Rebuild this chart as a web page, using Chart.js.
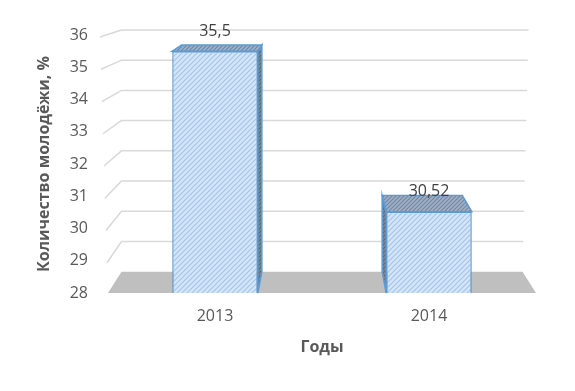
<!DOCTYPE html>
<html>
<head>
<meta charset="utf-8">
<script src="https://cdn.jsdelivr.net/npm/chart.js@4/dist/chart.umd.min.js"></script>
<style>
  html, body { margin: 0; padding: 0; background: #fff; }
  #wrap { width: 575px; height: 391px; }
</style>
</head>
<body>
<div id="wrap"><canvas id="chart" width="575" height="391"></canvas></div>
<script>
// данные
const years = ["2013", "2014"];
const youthShare = [35.5, 30.52];
const yMin = 28;
const yMax = 36;
const yStep = 1;
const yTitle = "Количество молодёжи, %";
const xTitle = "Годы";

const K = 0.063; // глубина "объёма"

const canvas = document.getElementById("chart");
const ctx0 = canvas.getContext("2d");

function hatch(bg, fg, s) {
    const c = document.createElement("canvas");
    c.width = c.height = s;
    const g = c.getContext("2d");
    g.fillStyle = bg;
    g.fillRect(0, 0, s, s);
    g.strokeStyle = fg;
    g.lineWidth = 1.2;
    g.beginPath();
    g.moveTo(0, s); g.lineTo(s, 0);
    g.moveTo(-1, 1); g.lineTo(1, -1);
    g.moveTo(s - 1, s + 1); g.lineTo(s + 1, s - 1);
    g.stroke();
    return ctx0.createPattern(c, "repeat");
}

const frontFill = hatch("#d5e5f7", "#a3c5eb", 5);
const topFill = hatch("#9fb1c7", "#7387a2", 4);
const sideFill = hatch("#7c8898", "#5d6978", 4);

function poly(ctx, pts) {
    ctx.beginPath();
    ctx.moveTo(pts[0][0], pts[0][1]);
    for (let i = 1; i < pts.length; i++) ctx.lineTo(pts[i][0], pts[i][1]);
    ctx.closePath();
}

const depth3d = {
    id: "depth3d",
    beforeDatasetsDraw(chart) {
        const { ctx, chartArea: a, scales: { y } } = chart;
        const vx = (a.left + a.right) / 2, vy = a.top - 80;
        const back = (px, py) => [px + (vx - px) * K, py + (vy - py) * K];

        ctx.save();
        // пол
        poly(ctx, [[a.left, a.bottom], [a.right, a.bottom], back(a.right, a.bottom), back(a.left, a.bottom)]);
        ctx.fillStyle = "#bfbfbf";
        ctx.fill();

        // линии сетки на стенках
        ctx.strokeStyle = "#d9d9d9";
        ctx.lineWidth = 1.5;
        for (let v = yMin + yStep; v <= yMax; v += yStep) {
            const fy = y.getPixelForValue(v);
            const t = (fy - a.top) / (a.bottom - a.top);
            const fx = a.left - 8 + 8 * t;
            const [bx, by] = back(a.left, fy);
            const rx = back(a.right, fy)[0] + 6 * (1 - t);
            ctx.beginPath();
            ctx.moveTo(fx, fy + 2);
            ctx.lineTo(bx, by);
            ctx.lineTo(rx, by);
            ctx.stroke();
        }

        // боковые грани столбцов
        chart.getDatasetMeta(0).data.forEach(bar => {
            const l = bar.x - bar.width / 2, r = bar.x + bar.width / 2;
            const base = Math.min(bar.base, a.bottom);
            const ex = back(r, bar.y)[0] > r ? r : l;
            poly(ctx, [[ex, bar.y], back(ex, bar.y), back(ex, base), [ex, base]]);
            ctx.fillStyle = sideFill;
            ctx.fill();
            ctx.strokeStyle = "#5b9bd5";
            ctx.lineWidth = 1.5;
            ctx.stroke();
        });
        ctx.restore();
    },
    afterDatasetsDraw(chart) {
        const { ctx, chartArea: a } = chart;
        const vx = (a.left + a.right) / 2, vy = a.top - 80;
        const back = (px, py) => [px + (vx - px) * K, py + (vy - py) * K];

        ctx.save();
        chart.getDatasetMeta(0).data.forEach((bar, i) => {
            const l = bar.x - bar.width / 2, r = bar.x + bar.width / 2;
            // верхняя грань
            poly(ctx, [[l, bar.y], [r, bar.y], back(r, bar.y), back(l, bar.y)]);
            ctx.fillStyle = topFill;
            ctx.fill();
            ctx.strokeStyle = "#5b9bd5";
            ctx.lineWidth = 1.5;
            ctx.stroke();

            // подписи значений
            ctx.fillStyle = "#404040";
            ctx.font = "16px 'Open Sans'";
            ctx.textAlign = "center";
            ctx.textBaseline = "middle";
            ctx.fillText(String(youthShare[i]).replace(".", ","), bar.x, bar.y - 20);
        });
        ctx.restore();
    }
};

new Chart(canvas, {
    type: "bar",
    data: {
        labels: years,
        datasets: [{
            data: youthShare,
            backgroundColor: frontFill,
            borderColor: "#5b9bd5",
            borderWidth: 1.5,
            barPercentage: 0.4,
            categoryPercentage: 1
        }]
    },
    options: {
        responsive: false,
        animation: false,
        events: [],
        layout: { padding: { top: 35, right: 39, left: 0, bottom: 0 } },
        plugins: { legend: { display: false }, tooltip: { enabled: false } },
        scales: {
            x: {
                grid: { display: false, drawTicks: false },
                border: { display: false },
                ticks: { color: "#595959", font: { family: "Open Sans", size: 16 }, padding: 14 },
                title: {
                    display: true, text: xTitle, color: "#595959",
                    font: { family: "Open Sans", size: 16, weight: "bold" },
                    padding: { top: 0, bottom: 34 }
                },
                afterFit: s => { s.height = 98; }
            },
            y: {
                min: yMin,
                max: yMax,
                grid: { display: false, drawTicks: false },
                border: { display: false },
                ticks: { stepSize: yStep, color: "#595959", font: { family: "Open Sans", size: 16 }, padding: 20 },
                title: {
                    display: true, text: yTitle, color: "#595959",
                    font: { family: "Open Sans", size: 16, weight: "bold" },
                    padding: { top: 35, bottom: 0 }
                },
                afterFit: s => { s.width = 108; }
            }
        }
    },
    plugins: [depth3d]
});
</script>
</body>
</html>
